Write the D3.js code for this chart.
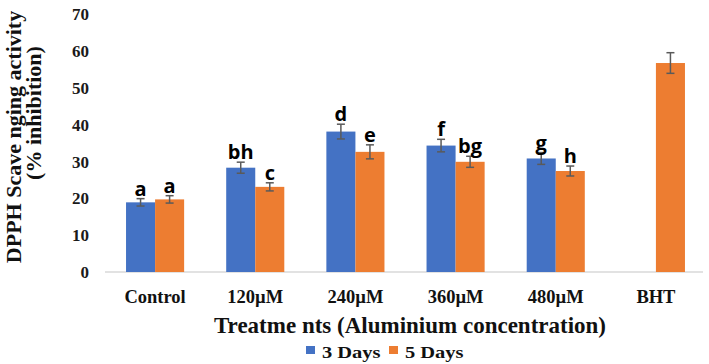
<!DOCTYPE html>
<html><head><meta charset="utf-8">
<script src="https://cdn.jsdelivr.net/npm/d3@7"></script>
<style>body{margin:0;background:#fff}svg{display:block}</style>
</head><body>
<script>
const categories = ["Control","120\u00b5M","240\u00b5M","360\u00b5M","480\u00b5M","BHT"];
const seriesNames = ["3 Days","5 Days"];
const days3 = [18.9, 28.3, 38.1, 34.3, 30.8, null];
const days5 = [19.7, 23.1, 32.6, 29.9, 27.4, 56.7];
const err3 = [1.0, 1.5, 2.0, 1.7, 1.6, null];
const err5 = [1.0, 1.1, 1.9, 1.5, 1.35, 2.8];
const letters3 = ["a","bh","d","f","g",""];
const letters5 = ["a","c","e","bg","h",""];
const yTicks = [0,10,20,30,40,50,60,70];
const colors = ["#4472C4","#ED7D31"];

const W=709,H=364;
const svg=d3.select("body").append("svg").attr("width",W).attr("height",H);
const x=d3.scaleBand().domain(categories).range([105,706]).paddingInner(0.42).paddingOuter(0.21);
const xs=d3.scaleBand().domain(seriesNames).range([0,x.bandwidth()]);
const y=d3.scaleLinear().domain([0,70]).range([272,14]);
const serif="'Liberation Serif','Times New Roman',serif";

// y tick labels
svg.append("g").selectAll("text").data(yTicks).join("text")
  .attr("x",89).attr("y",d=>y(d)).attr("dy","0.36em").attr("text-anchor","end")
  .attr("font-family",serif).attr("font-weight","bold").attr("font-size",17)
  .attr("fill","#1a1a1a").text(d=>d);

// axis line
svg.append("line").attr("x1",105).attr("x2",703).attr("y1",y(0)).attr("y2",y(0))
  .attr("stroke","#d9d9d9").attr("stroke-width",1.5);

const data=[];
categories.forEach((c,i)=>{
  [days3,days5].forEach((arr,s)=>{
    if(arr[i]==null) return;
    data.push({c,s,v:arr[i],e:(s?err5:err3)[i],l:(s?letters5:letters3)[i]});
  });
});
const bx=d=>x(d.c)+xs(seriesNames[d.s]);
svg.append("g").selectAll("rect").data(data).join("rect")
  .attr("x",bx).attr("width",xs.bandwidth()).attr("y",d=>y(d.v)).attr("height",d=>y(0)-y(d.v))
  .attr("fill",d=>colors[d.s]);

const eg=svg.append("g").attr("stroke","#5a5a5a").attr("stroke-width",1.5);
data.forEach(d=>{
  const cx=bx(d)+xs.bandwidth()/2;
  eg.append("line").attr("x1",cx).attr("x2",cx).attr("y1",y(d.v+d.e)).attr("y2",y(d.v-d.e));
  eg.append("line").attr("x1",cx-4).attr("x2",cx+4).attr("y1",y(d.v+d.e)).attr("y2",y(d.v+d.e));
  eg.append("line").attr("x1",cx-4).attr("x2",cx+4).attr("y1",y(d.v-d.e)).attr("y2",y(d.v-d.e));
});
svg.append("g").selectAll("text").data(data.filter(d=>d.l)).join("text")
  .attr("x",d=>bx(d)+xs.bandwidth()/2).attr("y",d=>y(d.v+d.e)-3).attr("text-anchor","middle")
  .attr("font-family","'Open Sans',sans-serif").attr("font-weight","bold").attr("font-size",20).attr("fill","#000")
  .text(d=>d.l);

// category labels
svg.append("g").selectAll("text").data(categories).join("text")
  .attr("x",d=>x(d)+x.bandwidth()/2).attr("y",303).attr("text-anchor","middle")
  .attr("font-family",serif).attr("font-weight","bold").attr("font-size",18.5).attr("fill","#111")
  .text(d=>d);

// x title
svg.append("text").attr("x",410).attr("y",333).attr("text-anchor","middle")
  .attr("font-family",serif).attr("font-weight","bold").attr("font-size",23).attr("fill","#111")
  .text("Treatme nts (Aluminium concentration)");

// y title
const yt=svg.append("g").attr("font-family",serif).attr("font-weight","bold").attr("font-size",22).attr("fill","#111").attr("text-anchor","middle");
yt.append("text").attr("transform","translate(21,137) rotate(-90)").text("DPPH Scave nging activity");
yt.append("text").attr("transform","translate(41,113) rotate(-90)").text("(% inhibition)");

// legend
const lg=svg.append("g").attr("font-family",serif).attr("font-weight","bold").attr("font-size",16).attr("fill","#111");
const lx=[306,389];
seriesNames.forEach((n,i)=>{
  lg.append("rect").attr("x",lx[i]).attr("y",346).attr("width",9).attr("height",8).attr("fill",colors[i]);
  lg.append("text").attr("transform",`translate(${lx[i]+16},358) scale(1.28,1)`).text(n);
});
</script>
</body></html>
